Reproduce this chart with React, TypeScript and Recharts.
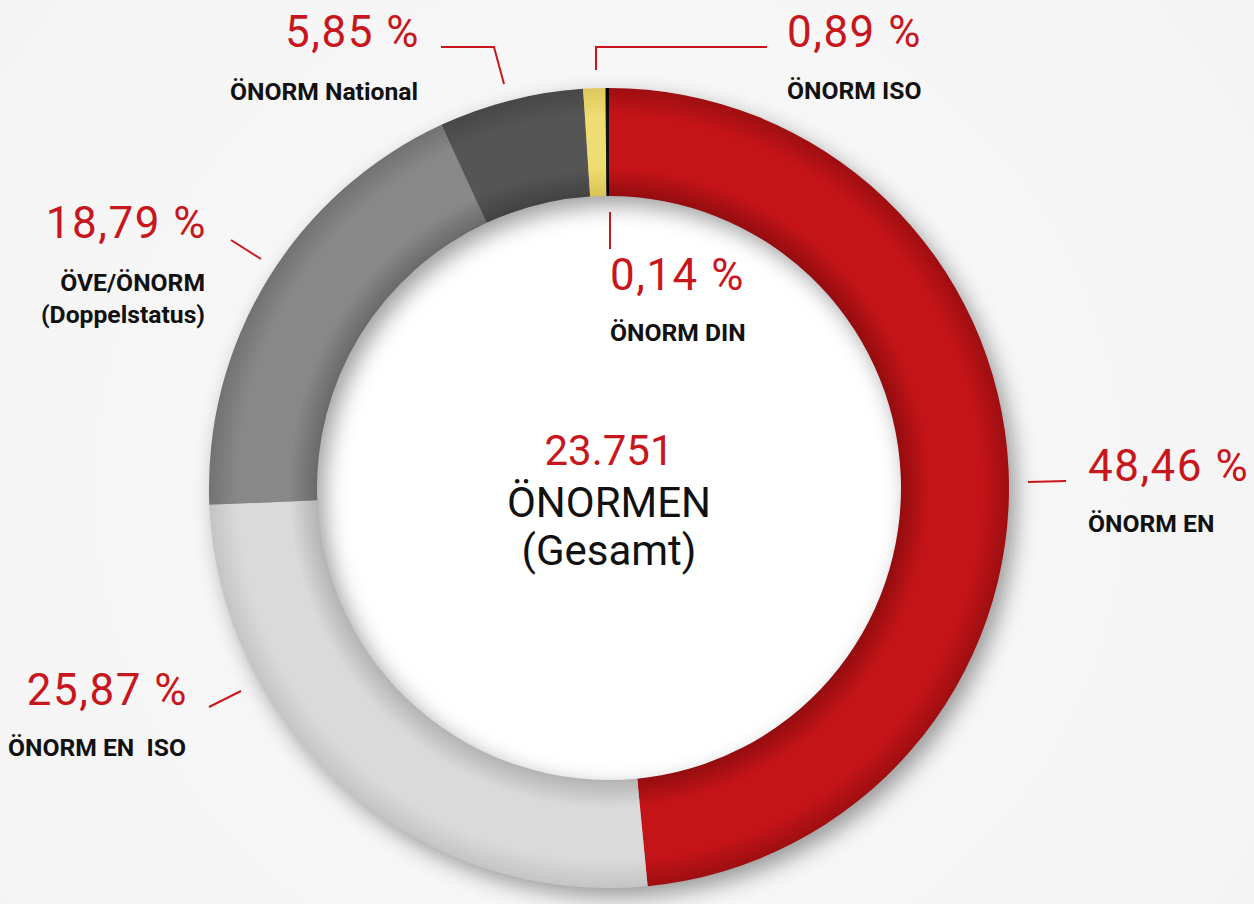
import React from "react";
import { PieChart, Pie, Cell } from "recharts";

const categories = ["ÖNORM EN", "ÖNORM EN  ISO", "ÖVE/ÖNORM\n(Doppelstatus)", "ÖNORM National", "ÖNORM ISO", "ÖNORM DIN"];
const shares = [48.46, 25.87, 18.79, 5.85, 0.89, 0.14];
const pctLabels = ["48,46 %", "25,87 %", "18,79 %", "5,85 %", "0,89 %", "0,14 %"];
const totalLabel = "23.751";
const centerLines = ["ÖNORMEN", "(Gesamt)"];

const data = categories.map((c, i) => ({ name: c, value: shares[i] }));

// [inner edge, body, outer edge]
const colors = [
  ["#940c0f", "#c41418", "#9e0e11"],
  ["#b4b4b4", "#dadada", "#c4c4c4"],
  ["#6a6a6a", "#888888", "#727272"],
  ["#424242", "#555555", "#474747"],
  ["#d9c455", "#efdc72", "#dcc85c"],
  ["#000000", "#111111", "#050505"],
];

// label layout (annotation positions)
const layout = [
  { x: 1088, anchor: "start", pctY: 481, nameY: [532], line: [[1028, 482], [1066, 481]] },
  { x: 188, anchor: "end", pctY: 705, nameY: [756], line: [[209, 707], [241, 691]] },
  { x: 207, anchor: "end", pctY: 238, nameY: [291, 323], line: [[231, 240], [261, 259]] },
  { x: 420, anchor: "end", pctY: 47, nameY: [100], line: [[441, 47], [494, 47], [504, 84]] },
  { x: 787, anchor: "start", pctY: 47, nameY: [99], line: [[767, 47], [596, 47], [596, 70]] },
  { x: 610, anchor: "start", pctY: 290, nameY: [341], line: [[610, 212], [610, 249]] },
];

const W = 1254;
const H = 904;
const CX = 609;
const CY = 488;
const IR = 292;
const OR = 400;
const FONT = "Roboto, 'Noto Sans', sans-serif";
const RED = "#c8161d";

const renderLabel = (props: any) => {
  const i = props.index;
  const l = layout[i];
  const nameLines = categories[i].split("\n");
  return (
    <g key={"lab" + i}>
      <polyline
        points={l.line.map((p) => p.join(",")).join(" ")}
        fill="none"
        stroke={RED}
        strokeWidth={2}
      />
      <text x={l.x} y={l.pctY} textAnchor={l.anchor} fontFamily={FONT} fontSize={44} letterSpacing={1.5} fill={RED}>
        {pctLabels[i]}
      </text>
      {nameLines.map((n, k) => (
        <text
          key={k}
          x={l.anchor === "end" ? l.x - 2 : l.x}
          y={l.nameY[k]}
          textAnchor={l.anchor}
          fontFamily={FONT}
          fontSize={24.7}
          fontWeight={700}
          fill="#111"
          style={{ whiteSpace: "pre" }}
        >
          {n}
        </text>
      ))}
    </g>
  );
};

const renderCenter = (props: any) => {
  const cx = props.cx;
  return (
    <g key="center">
      <text x={cx} y={465} textAnchor="middle" fontFamily={FONT} fontSize={42} fill={RED}>
        {totalLabel}
      </text>
      <text x={cx} y={517} textAnchor="middle" fontFamily={FONT} fontSize={42} fill="#111">
        {centerLines[0]}
      </text>
      <text x={cx} y={565} textAnchor="middle" fontFamily={FONT} fontSize={42} fill="#111">
        {centerLines[1]}
      </text>
    </g>
  );
};

export default function App() {
  return (
    <div style={{ position: "absolute", left: 0, top: 0, width: W, height: H, background: "#f4f4f4" }}>
      <PieChart width={W} height={H} margin={{ top: 0, right: 0, bottom: 0, left: 0 }}>
        <defs>
          <filter id="ringBlur" x="-30%" y="-30%" width="160%" height="160%">
            <feGaussianBlur stdDeviation="11" />
          </filter>
          <radialGradient id="bgGlow" gradientUnits="userSpaceOnUse" cx={CX} cy={CY} r={760}>
            <stop offset="0" stopColor="#fafafa" />
            <stop offset="1" stopColor="#f4f4f4" />
          </radialGradient>
          {colors.map((c, i) => (
            <radialGradient key={i} id={"seg" + i} gradientUnits="userSpaceOnUse" cx={CX} cy={CY} r={OR}>
              <stop offset={IR / OR} stopColor={c[0]} />
              <stop offset={(IR + 28) / OR} stopColor={c[1]} />
              <stop offset={(OR - 28) / OR} stopColor={c[1]} />
              <stop offset={1} stopColor={c[2]} />
            </radialGradient>
          ))}
        </defs>
        {/* page background */}
        <Pie
          data={[{ value: 1 }]}
          dataKey="value"
          cx={CX}
          cy={CY}
          innerRadius={IR + 10}
          outerRadius={800}
          startAngle={90}
          endAngle={-270}
          stroke="none"
          isAnimationActive={false}
          fill="url(#bgGlow)"
        />
        {/* inner disc */}
        <Pie
          data={[{ value: 1 }]}
          dataKey="value"
          cx={CX}
          cy={CY}
          innerRadius={0}
          outerRadius={IR + 10}
          startAngle={90}
          endAngle={-270}
          stroke="none"
          isAnimationActive={false}
          fill="#ffffff"
          label={renderCenter}
          labelLine={false}
        />
        {/* cast shadow of the ring */}
        <Pie
          data={[{ value: 1 }]}
          dataKey="value"
          cx={CX + 7}
          cy={CY + 9}
          innerRadius={IR}
          outerRadius={OR}
          startAngle={90}
          endAngle={-270}
          stroke="none"
          isAnimationActive={false}
        >
          <Cell fill="#000000" fillOpacity={0.38} filter="url(#ringBlur)" />
        </Pie>
        <Pie
          data={data}
          dataKey="value"
          cx={CX}
          cy={CY}
          innerRadius={IR}
          outerRadius={OR}
          startAngle={90}
          endAngle={-270}
          paddingAngle={0}
          stroke="none"
          isAnimationActive={false}
          label={renderLabel}
          labelLine={false}
        >
          {data.map((d, i) => (
            <Cell key={i} fill={`url(#seg${i})`} />
          ))}
        </Pie>
      </PieChart>
    </div>
  );
}
